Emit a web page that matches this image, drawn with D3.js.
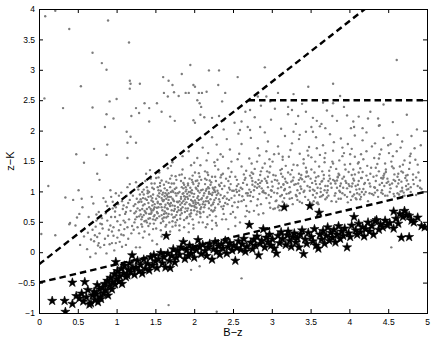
<!DOCTYPE html>
<html>
<head>
<meta charset="utf-8">
<script src="https://cdn.jsdelivr.net/npm/d3@7"></script>
<style>
body { margin: 0; background: #fff; }
svg { display: block; font-family: "Liberation Sans", Arial, Helvetica, sans-serif; }
</style>
</head>
<body>
<svg id="chart" width="436" height="342"></svg>
<script>
// tick values
const xTicks = [0, 0.5, 1, 1.5, 2, 2.5, 3, 3.5, 4, 4.5, 5];
const yTicks = [-1, -0.5, 0, 0.5, 1, 1.5, 2, 2.5, 3, 3.5, 4];

// selection cuts (B-z, z-K end points)
const cutBzk = [[0, -0.2], [4.2, 4]];
const cutPass = [[2.7, 2.5], [5, 2.5]];
const cutStar = [[0, -0.5], [5, 1.0]];

// gray points, flat x,y lists
const grayLeft = [0.62,0.05, 0.71,0.18, 0.66,-0.08, 0.78,0.31, 0.84,0.12, 0.81,0.46, 0.89,0.27, 0.93,0.58, 0.87,-0.02, 0.96,0.41, 0.99,0.15, 0.74,0.52, 0.69,0.37, 0.91,0.71, 0.95,0.83, 0.86,0.64, 1.03,0.36, 1.07,0.09, 1.04,0.61, 1.11,0.49, 1.09,0.77, 1.15,0.22, 1.13,0.93, 1.18,0.68, 1.02,0.79, 0.97,0.03, 0.58,0.26, 0.77,0.66, 0.83,0.89, 0.92,0.44, 1.06,0.98, 1.16,0.54, 1.19,0.31, 1.12,0.12, 0.88,0.52, 0.94,0.34, 1.01,0.24, 1.08,0.71, 1.17,0.86, 0.79,0.08, 0.73,0.42, 1.14,1.07, 1.05,0.45, 0.98,0.67, 1.10,0.38, 0.64,0.58, 0.53,0.12, 0.47,0.44, 0.56,0.74, 0.68,0.91, 0.94,0.15, 1.21,-0.08, 1.25,0.08, 1.3,0.08, 1.46,0.19, 1.52,0.13, 1.58,0.26,
  0.72,0.28, 0.81,0.56, 0.9,0.37, 0.99,0.74, 1.04,0.17, 0.85,0.22, 0.76,0.11, 0.93,0.91, 1.01,0.51, 0.88,0.76, 0.96,0.27, 1.07,0.84, 0.82,0.39, 1.11,0.63, 0.67,0.21, 0.79,0.47, 1.03,0.93, 0.91,0.13, 0.98,0.58, 1.09,0.28, 0.63,0.32, 0.86,0.83, 1.14,0.41, 0.95,0.72, 0.74,0.62];

const grayCore = [1.23,0.64, 1.27,0.41, 1.21,0.93, 1.34,0.77, 1.38,0.52, 1.31,1.12, 1.45,0.68, 1.42,0.29, 1.47,0.95, 1.29,0.83, 1.36,0.34, 1.44,1.21, 1.26,0.58, 1.33,0.99, 1.48,0.47, 1.41,0.81, 1.22,0.37, 1.39,0.71, 1.46,1.06, 1.35,0.61, 1.28,1.03, 1.43,0.56, 1.37,0.88, 1.49,0.74, 1.24,0.79, 1.32,0.46, 1.40,0.97, 1.47,0.38, 1.30,0.69, 1.45,0.85, 1.25,1.15, 1.38,1.29, 1.42,0.63, 1.34,0.24, 1.49,1.13, 1.27,0.72, 1.36,0.51, 1.44,0.92, 1.31,0.87, 1.41,0.43, 1.46,0.77, 1.23,0.49, 1.39,1.07, 1.48,0.59, 1.35,0.95, 1.29,0.31, 1.43,1.35, 1.37,0.66, 1.33,0.58, 1.47,0.69,
  1.52,0.73, 1.57,0.48, 1.54,1.02, 1.61,0.86, 1.66,0.59, 1.58,1.18, 1.72,0.77, 1.69,0.34, 1.75,1.04, 1.55,0.91, 1.63,0.42, 1.71,1.26, 1.53,0.64, 1.67,0.97, 1.78,0.53, 1.64,0.88, 1.51,0.39, 1.68,0.79, 1.74,1.13, 1.62,0.67, 1.56,1.09, 1.77,0.61, 1.65,0.94, 1.79,0.82, 1.59,0.86, 1.60,0.51, 1.73,0.99, 1.76,0.44, 1.58,0.74, 1.70,0.91, 1.54,1.23, 1.66,1.38, 1.71,0.69, 1.63,0.28, 1.77,1.19, 1.56,0.79, 1.64,0.57, 1.72,1.01, 1.59,0.95, 1.68,0.49, 1.74,0.84, 1.52,0.56, 1.67,1.14, 1.78,0.66, 1.62,1.05, 1.57,0.36, 1.70,1.42, 1.65,0.72, 1.61,0.63, 1.75,0.76, 1.53,0.83, 1.69,1.07, 1.58,0.61, 1.73,0.57, 1.66,0.81, 1.55,1.31, 1.79,0.97, 1.60,0.98, 1.76,1.25, 1.64,1.16,
  1.82,0.78, 1.87,0.53, 1.84,1.07, 1.91,0.91, 1.96,0.64, 1.88,1.22, 2.02,0.82, 1.99,0.39, 2.05,1.09, 1.85,0.96, 1.93,0.47, 2.01,1.31, 1.83,0.69, 1.97,1.02, 2.08,0.58, 1.94,0.93, 1.81,0.44, 1.98,0.84, 2.04,1.18, 1.92,0.72, 1.86,1.14, 2.07,0.66, 1.95,0.99, 2.09,0.87, 1.89,0.91, 1.90,0.56, 2.03,1.04, 2.06,0.49, 1.88,0.79, 2.00,0.96, 1.84,1.28, 1.96,1.43, 2.01,0.74, 1.93,0.33, 2.07,1.24, 1.86,0.84, 1.94,0.62, 2.02,1.06, 1.89,1.00, 1.98,0.54, 2.04,0.89, 1.82,0.61, 1.97,1.19, 2.08,0.71, 1.92,1.10, 1.87,0.41, 2.00,1.47, 1.95,0.77, 1.91,0.68, 2.05,0.81, 1.83,0.88, 1.99,1.12, 1.88,0.66, 2.03,0.62, 1.96,0.86, 1.85,1.36, 2.09,1.02, 1.90,1.03, 2.06,1.30, 1.94,1.21,
  2.12,0.83, 2.17,0.58, 2.14,1.12, 2.21,0.96, 2.26,0.69, 2.18,1.27, 2.32,0.87, 2.29,0.44, 2.35,1.14, 2.15,1.01, 2.23,0.52, 2.31,1.36, 2.13,0.74, 2.27,1.07, 2.38,0.63, 2.24,0.98, 2.11,0.49, 2.28,0.89, 2.34,1.23, 2.22,0.77, 2.16,1.19, 2.37,0.71, 2.25,1.04, 2.39,0.92, 2.19,0.96, 2.20,0.61, 2.33,1.09, 2.36,0.54, 2.18,0.84, 2.30,1.01, 2.14,1.33, 2.26,1.48, 2.31,0.79, 2.23,0.38, 2.37,1.29, 2.16,0.89, 2.24,0.67, 2.32,1.11, 2.19,1.05, 2.28,0.59, 2.34,0.94, 2.12,0.66, 2.27,1.24, 2.38,0.76, 2.22,1.15, 2.17,0.46, 2.30,1.52, 2.25,0.82,
  2.42,0.88, 2.47,0.63, 2.44,1.17, 2.51,1.01, 2.56,0.74, 2.48,1.32, 2.62,0.92, 2.59,0.49, 2.65,1.19, 2.45,1.06, 2.53,0.57, 2.61,1.41, 2.43,0.79, 2.57,1.12, 2.68,0.68, 2.54,1.03, 2.41,0.54, 2.58,0.94, 2.64,1.28, 2.52,0.82, 2.46,1.24, 2.67,0.76, 2.55,1.09, 2.69,0.97, 2.49,1.01, 2.50,0.66, 2.63,1.14, 2.66,0.59, 2.48,0.89, 2.60,1.06, 2.44,1.38, 2.56,1.53, 2.61,0.84, 2.53,0.43, 2.67,1.34];

const grayDense = [1.31,0.62, 1.44,0.71, 1.52,0.66, 1.58,0.89, 1.63,0.78, 1.71,0.62, 1.77,0.93, 1.83,0.71, 1.92,0.88, 1.97,0.76, 2.05,0.92, 2.13,0.97, 2.21,0.87, 2.27,0.99, 1.36,0.79, 1.41,0.55, 1.47,0.83, 1.55,0.97, 1.61,0.57, 1.68,0.91, 1.74,0.68, 1.81,0.84, 1.86,0.97, 1.94,0.79, 2.01,0.85, 2.09,0.74, 2.17,0.91, 2.24,1.06, 1.33,0.71, 1.39,0.86, 1.49,0.61, 1.57,0.79, 1.66,0.71, 1.73,0.86, 1.79,0.74, 1.88,0.87, 1.95,1.06, 2.03,0.73, 2.11,1.03, 2.19,0.81, 2.29,0.94, 1.42,0.74, 1.51,0.88, 1.59,0.69, 1.67,0.86, 1.76,0.97, 1.84,0.81, 1.91,0.96, 1.99,0.91, 2.07,0.98, 2.15,0.84, 2.23,0.94, 1.38,0.64, 1.46,0.89, 1.54,0.74, 1.62,0.92, 1.69,0.76, 1.78,0.83, 1.85,0.74, 1.93,0.99, 2.02,0.79, 2.10,0.89, 2.18,1.07, 2.26,0.86, 1.45,0.65, 1.53,0.81, 1.60,0.84, 1.70,0.99, 1.80,0.69, 1.90,0.82, 2.00,0.69, 2.14,0.78, 1.65,1.02, 1.75,0.58, 1.87,1.11, 1.98,1.15, 2.06,1.13, 2.20,1.18, 1.56,1.14, 1.48,1.04, 1.40,1.01, 1.34,0.89, 1.28,0.82, 1.25,0.67, 1.32,0.54, 1.43,0.47, 1.50,0.53, 1.64,0.45, 1.72,0.51, 1.82,0.55, 1.95,0.59, 2.08,0.64, 2.22,0.69, 2.35,0.75, 1.72,0.42, 1.81,0.36, 1.99,0.45, 2.15,0.41, 2.28,0.48, 2.44,0.38,
  1.12,0.66, 1.26,0.88, 1.37,1.17, 1.53,0.93, 1.69,1.21, 1.84,0.64, 1.97,0.97, 2.14,1.21, 2.31,0.97, 2.47,1.12, 1.18,0.97, 1.33,0.42, 1.49,0.79, 1.62,0.74, 1.77,1.06, 1.91,0.58, 2.06,0.86, 2.19,0.72, 2.36,1.04, 2.52,0.93, 1.09,0.52, 1.22,0.76, 1.41,0.91, 1.57,1.01, 1.72,0.88, 1.86,1.05, 2.02,1.17, 2.16,1.04, 2.33,0.83, 2.49,0.76, 1.15,0.81, 1.29,0.59, 1.44,0.63, 1.61,1.11, 1.75,0.71, 1.89,0.72, 2.04,0.67, 2.21,1.11, 2.39,1.09, 2.55,1.19, 1.06,0.29, 1.35,1.03, 1.51,1.22, 1.67,0.63, 1.83,1.17, 1.99,0.81, 2.12,0.93, 2.28,1.17, 2.43,0.98, 2.58,1.01, 1.20,0.43, 1.39,0.49, 1.55,0.59, 1.70,0.81, 1.87,0.92, 2.05,1.01, 2.24,0.79, 2.41,1.21, 2.57,0.83, 1.27,1.07, 1.45,1.13, 1.63,0.97, 1.81,1.27, 1.98,1.26, 2.17,1.31, 2.35,1.27, 2.53,1.24, 1.13,0.74, 1.32,0.83, 1.48,0.71, 1.64,0.64, 1.81,0.99, 1.96,0.69, 2.11,0.79, 2.27,0.73, 2.45,0.86, 1.24,0.54, 1.42,0.99, 1.59,0.55, 1.76,0.49, 1.92,1.13, 2.09,1.19, 2.26,1.02, 2.40,0.81, 1.17,1.12, 1.36,0.68, 1.53,1.07, 1.71,1.13, 1.89,1.07, 2.07,0.78, 2.23,1.24, 2.46,1.03, 1.30,0.95, 1.47,0.54, 1.66,0.91, 1.83,0.91, 2.00,0.76, 2.19,0.99, 2.37,0.89, 2.55,0.99];

const grayRight = [2.72,0.93, 2.77,0.68, 2.74,1.22, 2.81,1.06, 2.86,0.79, 2.78,1.37, 2.92,0.97, 2.89,0.64, 2.95,1.24, 2.75,1.11, 2.83,0.62, 2.91,1.46, 2.73,0.84, 2.87,1.17, 2.98,0.73, 2.84,1.08, 2.71,0.66, 2.88,0.99, 2.94,1.33, 2.82,0.87, 2.76,1.29, 2.97,0.81, 2.85,1.14, 2.99,1.02, 3.02,0.71, 3.07,1.18, 3.04,0.72, 3.11,1.35, 3.16,0.89, 3.08,0.74, 3.12,1.07, 3.19,0.78, 3.05,1.26, 3.13,0.94, 3.01,1.49, 3.17,1.21, 3.09,0.77, 3.14,0.83, 3.03,0.98, 3.18,1.42, 3.06,0.85, 3.15,1.12, 3.10,0.69, 3.00,1.16,
  3.22,0.97, 3.27,0.79, 3.24,1.28, 3.31,1.12, 3.36,0.83, 3.28,1.44, 3.42,1.01, 3.39,0.81, 3.45,1.31, 3.25,1.16, 3.33,0.86, 3.41,1.53, 3.23,0.88, 3.37,1.22, 3.48,0.77, 3.34,1.13, 3.21,0.76, 3.38,1.04, 3.44,1.39, 3.32,0.92, 3.26,1.35, 3.47,0.86, 3.35,1.19, 3.49,1.07, 3.52,0.80, 3.57,1.23, 3.54,0.84, 3.61,1.41, 3.66,0.94, 3.58,0.81, 3.62,1.12, 3.69,0.87, 3.55,1.31, 3.63,0.99, 3.51,1.56, 3.67,1.27, 3.59,0.82, 3.64,0.92, 3.53,1.03, 3.68,1.48, 3.56,0.90, 3.65,1.17, 3.60,0.79, 3.50,1.21,
  3.72,1.02, 3.77,0.84, 3.74,1.34, 3.81,1.17, 3.86,0.88, 3.78,1.49, 3.92,1.06, 3.89,0.88, 3.95,1.36, 3.75,1.21, 3.83,0.83, 3.91,1.58, 3.73,0.93, 3.87,1.27, 3.98,0.82, 3.84,1.18, 3.71,0.90, 3.88,1.09, 3.94,1.44, 3.82,0.97, 3.76,1.40, 3.97,0.91, 3.85,1.24, 3.99,1.12, 4.02,0.86, 4.07,1.28, 4.04,0.92, 4.11,1.46, 4.16,0.99, 4.08,0.89, 4.12,1.17, 4.19,0.95, 4.05,1.36, 4.13,1.04, 4.01,1.61, 4.17,1.32, 4.09,0.87, 4.14,0.87, 4.03,1.08, 4.18,1.53, 4.06,0.95, 4.15,1.22, 4.10,0.97, 4.20,1.14, 4.24,0.84, 4.28,1.39, 4.22,1.66, 4.26,0.97,
  4.32,1.07, 4.37,0.91, 4.34,1.39, 4.41,1.22, 4.46,0.93, 4.38,1.54, 4.52,1.11, 4.49,0.93, 4.55,1.41, 4.35,1.26, 4.43,0.96, 4.51,1.63, 4.33,0.98, 4.47,1.32, 4.58,0.92, 4.44,1.23, 4.31,0.94, 4.48,1.14, 4.54,1.49, 4.42,1.02, 4.36,1.45, 4.57,0.96, 4.45,1.29, 4.59,1.17, 4.62,0.97, 4.67,1.33, 4.64,0.95, 4.71,1.51, 4.76,1.04, 4.68,1.01, 4.72,1.22, 4.79,0.99, 4.65,1.41, 4.73,1.09, 4.61,1.66, 4.77,1.37, 4.69,0.92, 4.74,1.03, 4.63,1.13, 4.78,1.58, 4.66,1.00, 4.75,1.27, 4.70,0.98, 4.82,1.19, 4.86,0.94, 4.88,1.44, 4.84,1.71, 4.91,1.06, 4.93,1.04, 4.89,1.31];

const grayBand = [3.12,1.29, 2.64,0.86, 4.41,0.98, 3.87,1.01, 2.79,1.15, 4.05,1.21, 3.33,1.02, 2.93,0.89, 4.62,1.24, 3.58,0.97, 2.71,1.03, 3.96,1.14, 4.27,1.08, 3.43,0.91, 2.85,1.27, 4.83,1.12, 3.69,1.09, 3.05,0.84, 4.15,0.91, 2.98,1.41, 3.81,0.93, 4.53,1.05, 3.27,1.18, 2.66,1.22, 4.34,1.17, 3.74,1.26, 3.19,0.96, 4.71,0.93, 2.89,1.01, 3.51,1.36, 4.09,1.03, 3.38,1.27, 2.76,0.91, 4.45,1.09, 3.63,1.05, 3.01,1.08, 4.22,1.26, 3.91,0.97, 2.81,0.77, 4.67,1.16, 3.46,1.09, 3.14,1.24, 4.01,0.99, 2.68,1.11, 3.76,1.13, 4.38,1.33, 3.23,1.07, 4.86,1.23, 2.94,1.14, 3.56,1.17, 4.18,1.04, 3.07,0.97, 4.58,1.28, 3.84,1.06, 2.73,0.99, 3.31,0.94, 4.29,0.96, 3.65,1.33, 2.96,0.94, 4.49,1.21, 3.93,1.24, 3.17,1.04, 4.76,1.12, 2.83,1.19, 3.44,1.24, 4.11,1.11, 3.59,1.06, 2.62,1.04, 3.99,1.32, 4.31,1.24, 3.26,0.89, 4.69,1.31, 3.71,0.98, 2.91,1.21, 4.06,1.18, 3.37,1.08, 4.52,0.99, 3.83,1.37, 3.09,1.13, 2.74,1.31, 4.24,1.19, 3.62,0.91, 4.91,1.18, 3.18,1.16, 3.97,1.05, 2.87,1.05, 4.42,1.14, 3.52,1.14, 4.14,1.38, 3.28,1.23, 2.69,0.93, 4.61,1.08, 3.79,1.19, 3.02,1.27, 4.36,1.02, 3.41,0.99, 2.99,0.91, 4.79,1.07, 3.67,1.21, 4.03,1.27, 3.21,1.31, 2.78,1.08, 4.47,1.36, 3.89,1.13, 3.55,1.01, 4.19,1.12, 3.11,0.92, 4.64,1.19, 2.84,0.96, 3.35,1.29, 3.94,0.94, 4.27,1.29, 3.72,1.09, 2.97,1.31, 4.55,1.13, 3.47,1.25, 4.08,1.09, 3.16,1.02, 2.75,1.17, 4.73,1.26, 3.86,1.29, 3.29,1.11, 4.33,1.06, 3.60,1.25, 2.90,0.98, 4.12,1.31, 3.42,1.16, 4.88,1.09, 3.77,1.06, 3.04,1.19, 4.44,1.26, 2.67,0.97, 3.91,1.21, 3.53,0.94, 4.21,0.99, 3.13,1.37, 4.68,1.06, 3.82,1.13, 2.82,1.12, 4.39,1.11, 3.36,0.97, 3.95,1.17, 3.08,1.05, 4.57,1.19, 3.68,1.02, 2.72,1.26, 4.16,1.22, 3.24,0.99, 4.82,1.28, 3.57,1.12, 2.93,1.17, 4.04,1.13, 3.45,1.33, 4.50,1.16, 3.88,0.99, 3.20,1.14, 2.86,1.33, 4.26,1.13, 3.73,1.17, 4.74,1.18, 3.39,1.20, 3.00,1.01, 4.13,0.95, 3.64,1.16, 2.77,1.02, 4.43,1.21, 3.85,1.23, 3.15,1.11, 4.63,1.29, 3.49,1.01, 4.00,1.09, 2.95,1.07,
  2.81,1.49, 3.22,1.57, 3.68,1.55, 4.12,1.48, 4.56,1.58, 2.97,1.53, 3.41,1.46, 3.87,1.51, 4.32,1.55, 4.78,1.47, 3.09,1.62, 3.56,1.49, 4.01,1.45, 4.46,1.46, 2.88,1.39, 3.33,1.43, 3.79,1.46, 4.23,1.42, 4.69,1.44, 3.14,1.52, 3.62,1.60, 4.07,1.57, 4.57,1.38, 2.74,1.46, 3.46,1.67, 3.93,1.63, 4.39,1.61, 4.85,1.52];

const grayUpper = [1.72,1.48, 1.85,1.58, 1.93,1.66, 2.04,1.55, 2.11,1.72, 2.18,1.63, 2.23,1.89, 2.29,1.77, 2.34,1.61, 2.38,2.02, 2.42,1.86, 2.46,1.69, 2.52,2.13, 2.57,1.95, 2.61,1.78, 2.66,2.31, 2.69,2.06, 2.73,1.88, 2.78,2.22, 2.82,1.71, 2.86,2.41, 2.91,1.97, 2.95,1.82, 2.99,2.18, 3.04,2.36, 3.08,1.74, 3.12,2.03, 3.17,1.91, 3.21,2.27, 3.26,1.79, 3.31,2.11, 3.35,1.86, 3.39,2.44, 3.44,1.98, 3.48,1.73, 3.53,2.21, 3.57,1.89, 3.62,2.07, 3.66,1.76, 3.71,2.33, 3.75,1.94, 3.80,1.81, 3.84,2.16, 3.89,1.87, 3.93,2.39, 3.98,1.78, 4.02,2.04, 4.07,1.92, 4.12,2.23, 4.17,1.84, 4.22,1.97, 4.27,2.31, 4.33,1.79, 4.38,2.08, 4.44,1.88, 4.50,1.76, 4.56,2.14, 4.62,1.93, 4.68,1.82, 4.74,2.26, 4.80,1.91, 4.87,2.02,
  2.08,1.43, 2.16,1.51, 2.27,1.42, 2.37,1.57, 2.48,1.49, 2.58,1.62, 2.71,1.54, 2.84,1.59, 2.93,1.66, 3.03,1.61, 3.14,1.57, 3.24,1.68, 3.36,1.62, 3.47,1.59, 3.58,1.71, 3.69,1.63, 3.79,1.67, 3.91,1.72, 4.03,1.70, 4.15,1.61, 4.29,1.74, 4.41,1.69, 4.53,1.78, 4.66,1.72, 4.79,1.62, 4.92,1.76];

const graySparse = [0.08,3.88, 0.21,3.97, 0.39,3.67, 0.54,2.73, 0.69,3.28, 0.81,3.11, 0.87,3.00, 0.89,3.81, 1.16,3.45, 1.17,2.82, 1.18,2.77, 1.17,2.69, 1.30,2.77, 0.07,2.53, 0.31,2.37, 0.69,2.38, 0.91,2.48, 1.00,2.52, 0.87,2.27, 1.36,2.45, 1.25,2.37, 1.42,2.37, 1.19,2.24, 0.96,2.20,
  0.85,2.06, 1.13,1.98, 1.18,1.90, 1.25,1.80, 0.48,1.61, 0.58,1.47, 0.71,1.70, 0.88,1.77, 0.87,1.60, 0.75,1.29, 0.78,1.19, 0.12,1.09, 0.34,0.90, 0.44,0.86, 0.51,1.02, 0.55,0.88, 0.70,0.80, 0.49,0.57, 0.40,0.48, 0.92,1.02, 0.99,0.97, 1.14,1.80, 1.14,1.55, 1.29,2.29, 1.42,2.15, 1.52,2.45, 0.21,0.28, 0.39,0.46, 0.52,0.63, 0.75,0.25, 0.77,0.15, 0.03,0.30, 0.73,-0.02,
  1.95,3.08, 1.84,2.93, 2.19,2.99, 2.32,2.99, 2.56,2.88, 1.60,2.88, 1.67,2.82, 1.72,2.75, 1.99,2.75, 2.01,2.72, 2.31,2.75, 1.61,2.62, 1.66,2.56, 1.74,2.63, 1.80,2.57, 1.89,2.62, 1.93,2.62, 2.06,2.62, 2.10,2.62, 2.16,2.64, 2.40,2.62, 2.04,2.50, 2.07,2.45, 2.09,2.39, 2.36,2.48, 1.58,2.31, 1.69,2.23, 1.75,2.16, 1.99,2.17, 2.01,2.13, 2.08,2.26, 2.13,2.22, 2.23,2.21, 2.32,2.24, 2.38,2.17, 2.61,2.15, 2.72,2.34, 2.82,2.56, 2.93,2.56, 2.98,2.48, 3.08,2.62, 3.21,2.39, 2.91,3.04, 2.59,2.01, 2.72,2.01, 2.85,2.06,
  3.47,2.72, 3.79,2.77, 3.88,2.57, 3.28,2.60, 4.61,3.16, 3.66,2.46, 3.79,2.45, 3.44,2.31, 3.78,2.24, 3.97,2.25, 4.24,2.20, 4.37,2.20, 4.44,2.43, 3.26,2.34, 3.34,2.24, 3.58,2.16, 3.64,2.11, 3.69,2.04, 4.05,2.15, 4.06,2.06, 4.17,2.04, 4.39,2.09, 3.28,1.98, 3.36,1.93, 3.51,2.06, 3.53,1.98,
  2.29,-0.98, 1.67,-0.87, 1.96,-0.29, 2.61,-0.43, 2.07,-0.23, 4.54,0.08];

// black stars
const stars = [0.17,-0.80, 0.33,-0.80, 0.34,-0.98, 0.43,-0.85, 0.43,-0.50, 0.52,-0.76, 0.59,-0.49, 0.75,-0.54,
  0.48,-0.72, 0.55,-0.68, 0.57,-0.81, 0.61,-0.74, 0.63,-0.62, 0.65,-0.86, 0.67,-0.84, 0.69,-0.71, 0.71,-0.65, 0.72,-0.78, 0.74,-0.69, 0.76,-0.82, 0.78,-0.61, 0.79,-0.74, 0.80,-0.77, 0.82,-0.58, 0.83,-0.68, 0.85,-0.52, 0.86,-0.63, 0.88,-0.47, 0.89,-0.71, 0.91,-0.55, 0.92,-0.42, 0.94,-0.61, 0.95,-0.49, 0.97,-0.36, 0.98,-0.53, 0.99,-0.16, 1.00,-0.44, 1.01,-0.31, 1.03,-0.48, 1.04,-0.39, 1.06,-0.27, 1.07,-0.52, 1.09,-0.35, 1.10,-0.22, 1.12,-0.41, 1.14,-0.38, 1.15,-0.29, 1.17,-0.18, 1.18,-0.33, 1.20,-0.05, 1.21,-0.26, 1.23,-0.37, 1.25,-0.25, 1.27,-0.14, 1.29,-0.31, 1.31,-0.21, 1.33,-0.35, 1.35,-0.12, 1.37,-0.27, 1.40,-0.19, 1.42,-0.30, 1.44,-0.08, 1.46,-0.22, 1.48,-0.05, 1.50,-0.15, 1.52,-0.26, 1.54,-0.11, 1.57,-0.01, 1.59,-0.18, 1.61,-0.08, 1.63,-0.25, 1.64,0.27, 1.66,-0.02, 1.68,-0.14, 1.69,-0.26, 1.71,-0.06, 1.73,0.05, 1.75,-0.17, 1.77,-0.09, 1.79,0.02, 1.81,-0.04, 1.83,0.08, 1.86,0.17, 1.88,-0.11, 1.90,0.03, 1.92,-0.06, 1.94,0.11, 1.96,-0.02, 1.98,0.06, 2.00,-0.09, 2.03,0.04, 2.05,0.20, 2.07,0.09, 2.09,-0.03, 2.11,0.12, 2.14,0.02, 2.16,-0.06, 2.18,0.08, 2.20,0.14, 2.23,-0.12, 2.25,0.05, 2.27,0.17, 2.29,0.01, 2.31,0.10, 2.33,-0.04, 2.35,0.13, 2.37,0.06, 2.40,0.19, 2.42,-0.02, 2.44,0.09, 2.46,0.15, 2.49,0.03, 2.51,0.11, 2.53,-0.14, 2.55,0.07, 2.57,0.18, 2.60,0.04, 2.62,0.13, 2.64,0.22, 2.66,0.01, 2.68,0.09, 2.71,0.45, 2.73,0.16, 2.75,0.05, 2.77,0.21, 2.79,0.11, 2.81,0.26, 2.83,-0.05, 2.85,0.14, 2.87,0.19, 2.89,0.38, 2.91,0.08, 2.93,0.24, 2.95,0.17, 2.97,0.29, 2.99,0.11, 3.01,0.21, 3.03,0.06, 3.06,-0.02, 3.08,0.27, 3.10,0.15, 3.12,0.33, 3.14,0.22, 3.16,0.74, 3.18,0.12, 3.20,0.28, 3.21,0.34, 3.23,0.19, 3.25,0.09, 3.27,0.25, 3.29,0.31, 3.31,0.16, 3.33,0.23, 3.35,0.08, 3.37,0.29, 3.39,0.36, 3.41,-0.03, 3.43,0.21, 3.45,0.14, 3.47,0.32, 3.49,0.76, 3.51,0.25, 3.53,0.18, 3.55,0.38, 3.57,0.11, 3.60,0.06, 3.61,0.65, 3.62,0.29, 3.64,0.21, 3.66,0.35, 3.68,0.14, 3.70,0.27, 3.72,0.41, 3.74,0.19, 3.76,0.32, 3.78,0.24, 3.80,0.37, 3.82,0.16, 3.84,0.29, 3.86,0.43, 3.88,0.22, 3.90,0.34, 3.92,0.27, 3.94,0.39, 3.97,0.08, 3.99,0.31, 4.01,0.25, 4.03,0.44, 4.06,0.58, 4.08,0.36, 4.10,0.29, 4.12,0.47, 4.14,0.33, 4.17,0.41, 4.19,0.26, 4.21,0.38, 4.24,0.49, 4.26,0.34, 4.29,0.43, 4.31,0.29, 4.33,0.51, 4.35,0.53, 4.38,0.37, 4.40,0.46, 4.43,0.41, 4.46,0.52, 4.49,0.44, 4.52,0.48, 4.57,0.67, 4.57,0.39, 4.60,0.55, 4.63,0.47, 4.65,0.63, 4.67,0.24, 4.69,0.58, 4.71,0.68, 4.74,0.61, 4.77,0.60, 4.77,0.25, 4.80,0.52, 4.83,0.49, 4.88,0.57, 4.93,0.43, 4.97,0.41];

const width = 436, height = 342;
const margin = { top: 9, right: 9, bottom: 29, left: 39 };

function toPairs(a) {
    const out = [];
    for (let i = 0; i < a.length; i += 2) out.push([a[i], a[i + 1]]);
    return out;
}
const fmt = (d) => String(d).replace('-', '\u2212');

const x = d3.scaleLinear().domain([0, 5]).range([margin.left, width - margin.right]);
const y = d3.scaleLinear().domain([-1, 4]).range([height - margin.bottom, margin.top]);

const svg = d3.select('#chart');

svg.append('clipPath').attr('id', 'plot-clip')
    .append('rect')
    .attr('x', x(0)).attr('y', y(4))
    .attr('width', x(5) - x(0)).attr('height', y(-1) - y(4));

const plot = svg.append('g').attr('clip-path', 'url(#plot-clip)');

// gray galaxies
const grayAll = [].concat(grayLeft, grayCore, grayDense, grayRight, grayBand, grayUpper, graySparse);
plot.append('g')
    .selectAll('circle')
    .data(toPairs(grayAll))
    .enter()
    .append('circle')
    .attr('cx', (d) => x(d[0]))
    .attr('cy', (d) => y(d[1]))
    .attr('r', 1.2)
    .attr('fill', '#7c7c7c');

// stars
const starPath = d3.symbol().type(d3.symbolStar).size(26);
plot.append('g')
    .selectAll('path')
    .data(toPairs(stars))
    .enter()
    .append('path')
    .attr('d', starPath)
    .attr('transform', (d) => 'translate(' + x(d[0]) + ',' + y(d[1]) + ')')
    .attr('fill', '#000')
    .attr('stroke', '#000')
    .attr('stroke-width', 0.6);

// dashed cut lines
const line = d3.line().x((d) => x(d[0])).y((d) => y(d[1]));
[cutBzk, cutPass, cutStar].forEach((c) => {
    plot.append('path')
        .attr('d', line(c))
        .attr('fill', 'none')
        .attr('stroke', '#000')
        .attr('stroke-width', 2.4)
        .attr('stroke-dasharray', '6.5,4');
});

// axes, ticks pointing inward on all four sides
function styleAxis(g) {
    g.attr('font-size', 8.5).attr('font-family', null);
    g.select('.domain').remove();
    g.selectAll('.tick line').attr('stroke', '#000');
    g.selectAll('.tick text').attr('fill', '#000');
}
svg.append('g')
    .attr('transform', 'translate(0,' + y(-1) + ')')
    .call(d3.axisBottom(x).tickValues(xTicks).tickSizeInner(-4).tickSizeOuter(0).tickPadding(6).tickFormat(fmt))
    .call(styleAxis);
svg.append('g')
    .attr('transform', 'translate(0,' + y(4) + ')')
    .call(d3.axisTop(x).tickValues(xTicks).tickSizeInner(-4).tickSizeOuter(0).tickFormat(''))
    .call(styleAxis);
svg.append('g')
    .attr('transform', 'translate(' + x(0) + ',0)')
    .call(d3.axisLeft(y).tickValues(yTicks).tickSizeInner(-4).tickSizeOuter(0).tickPadding(4).tickFormat(fmt))
    .call(styleAxis);
svg.append('g')
    .attr('transform', 'translate(' + x(5) + ',0)')
    .call(d3.axisRight(y).tickValues(yTicks).tickSizeInner(-4).tickSizeOuter(0).tickFormat(''))
    .call(styleAxis);

svg.append('rect')
    .attr('x', x(0)).attr('y', y(4))
    .attr('width', x(5) - x(0)).attr('height', y(-1) - y(4))
    .attr('fill', 'none')
    .attr('stroke', '#000')
    .attr('stroke-width', 1)
    .attr('shape-rendering', 'crispEdges');

// axis titles
svg.append('text')
    .attr('x', (x(0) + x(5)) / 2)
    .attr('y', 336)
    .attr('text-anchor', 'middle')
    .attr('font-size', 11)
    .text('B\u2212z');
svg.append('text')
    .attr('transform', 'translate(14,' + ((y(4) + y(-1)) / 2) + ') rotate(-90)')
    .attr('text-anchor', 'middle')
    .attr('font-size', 11)
    .text('z\u2212K');
</script>
</body>
</html>
